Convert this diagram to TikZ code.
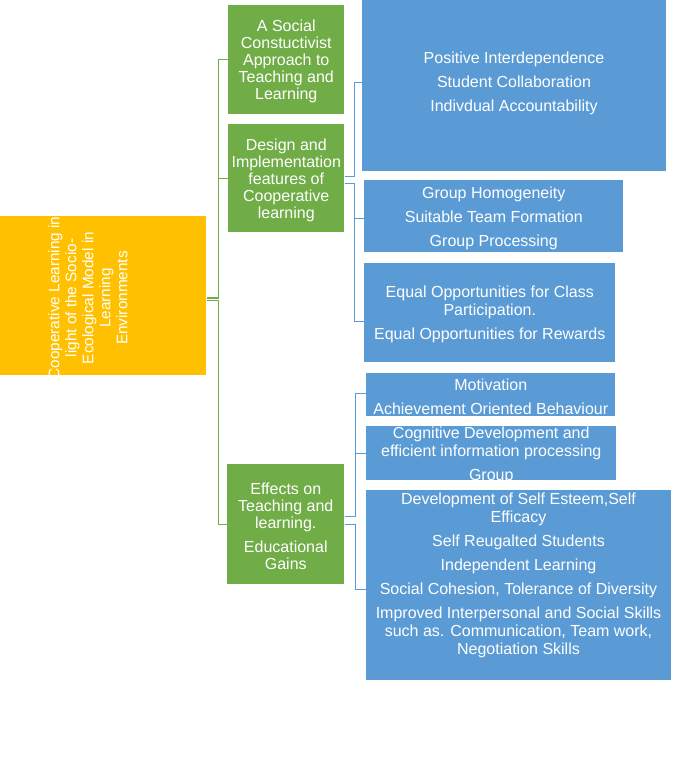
\documentclass[tikz,border=0pt]{standalone}
\usepackage{fontspec}
\setmainfont{Liberation Sans}
\definecolor{sagreen}{HTML}{70AD47}
\definecolor{sablue}{HTML}{5B9BD5}
\definecolor{saorange}{HTML}{FFC000}
\tikzset{
 boxbase/.style={draw=none, anchor=north west, inner sep=0pt},
 gbox/.style={boxbase, fill=sagreen},
 bbox/.style={boxbase, fill=sablue},
 obox/.style={boxbase, fill=saorange},
 txt/.style={text=white, align=center, font=\fontsize{12}{13.5}\selectfont, inner sep=0pt, yshift=-1.5pt},
 gtxt/.style={txt, font=\fontsize{12}{12.75}\selectfont},
 otxt/.style={txt, font=\fontsize{11.5}{12.75}\selectfont},
 gline/.style={draw=sagreen, line width=1.1pt},
 bline/.style={draw=sablue, line width=0.8pt},
}
\begin{document}
\begin{tikzpicture}[x=0.75pt,y=-0.75pt]
\useasboundingbox[fill=white] (0,0) rectangle (675,780);
% root
\node[obox, minimum width=154.5pt, minimum height=119.25pt] (O) at (0,216) {};
\node[otxt, rotate=90] (Ot) at (88,296) {Cooperative Learning in\\light of the Socio-\\Ecological Model in\\Learning\\Environments};
% green boxes
\node[gbox, minimum width=87pt, minimum height=81.75pt] (G1) at (228,5) {};
\node[gbox, minimum width=87pt, minimum height=81pt] (G2) at (228,124) {};
\node[gbox, minimum width=87.75pt, minimum height=90pt] (G3) at (227,464) {};
\node[gtxt] (G1t) at (G1.center) {A Social\\Constuctivist\\Approach to\\Teaching and\\Learning};
\node[gtxt] (G2t) at (G2.center) {Design and\\Implementation\\features of\\Cooperative\\learning};
\node[gtxt] (G3t) at (G3.center) {Effects on\\Teaching and\\learning.\\[5pt]Educational\\Gains};
% blue boxes
\node[bbox, minimum width=228pt, minimum height=128.25pt] (B1) at (362,0) {};
\node[bbox, minimum width=194.25pt, minimum height=54pt] (B2) at (364,180) {};
\node[bbox, minimum width=188.25pt, minimum height=74.25pt] (B3) at (364,263) {};
\node[bbox, minimum width=186.75pt, minimum height=32.25pt] (B4) at (366,373) {};
\node[bbox, minimum width=187.5pt, minimum height=40.5pt] (B5) at (366,426) {};
\node[bbox, minimum width=228.75pt, minimum height=142.5pt] (B6) at (366,490) {};
\node[txt] (B1t) at (514,81) {Positive  Interdependence\\[4.5pt]Student  Collaboration\\[4.5pt]Indivdual  Accountability};
\node[txt] (B2t) at (B2.center) {Group Homogeneity\\[4.5pt]Suitable Team Formation\\[4.5pt]Group Processing};
\node[txt] (B3t) at (B3.center) {Equal  Opportunities  for Class\\Participation.\\[4.5pt]Equal  Opportunities  for Rewards};
\node[txt] (B4t) at (B4.center) {Motivation\\[4.5pt]Achievement  Oriented  Behaviour};
\node[txt] (B5t) at (B5.center) {Cognitive  Development  and\\efficient information processing\\[4.5pt]Group};
\node[txt] (B6t) at (518.5,573) {Development  of Self Esteem,Self\\Efficacy\\[4.5pt]Self Reugalted  Students\\[4.5pt]Independent  Learning\\[4.5pt]Social Cohesion, Tolerance of Diversity\\[4.5pt]Improved  Interpersonal and Social Skills\\such as. Communication,  Team work,\\Negotiation Skills};
% green connectors
\draw[gline] ([yshift=-1.5pt]O.east) -- ++(12,0) |- (G1.west);
\draw[gline] ([yshift=-1.5pt]O.east) -- ++(12,0) |- (G2.west);
\draw[gline] ([yshift=-3.5pt]O.east) -- ++(12,0) |- (G3.west);
% blue connectors
\draw[bline] ([yshift=1pt]G2.east) -- ++(10,0) |- ([yshift=2.5pt]B1.west);
\draw[bline] ([yshift=-4pt]G2.east) -- ++(10,0) |- ([yshift=-1.5pt]B2.west);
\draw[bline] ([yshift=-4pt]G2.east) -- ++(10,0) |- ([yshift=-6.5pt]B3.west);
\draw[bline] ([yshift=6pt]G3.east) -- ++(11,0) |- ([yshift=1pt]B4.west);
\draw[bline] ([yshift=6pt]G3.east) -- ++(11,0) |- (B5.west);
\draw[bline] ([yshift=0pt]G3.east) -- ++(11,0) |- ([yshift=-3pt]B6.west);
\end{tikzpicture}
\end{document}
